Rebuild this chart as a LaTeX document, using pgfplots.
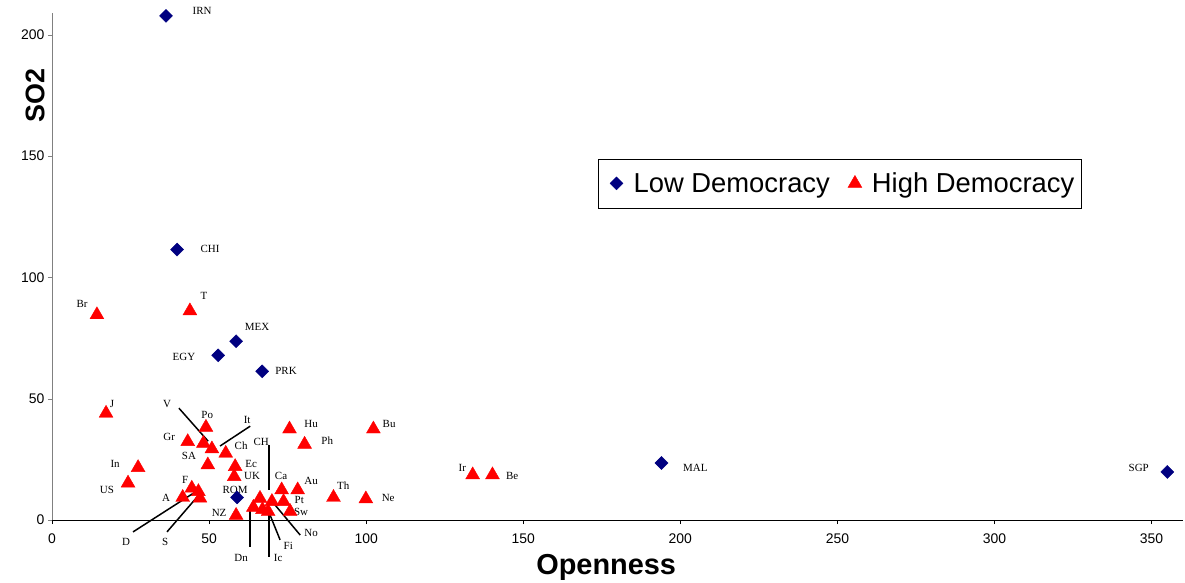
\documentclass[border=0pt]{standalone}
\usepackage{pgfplots}
\pgfplotsset{compat=1.18}
\usepackage{fontspec}
\setmainfont{Liberation Sans}
\newfontfamily\lblfont{Liberation Serif}
\definecolor{lowdem}{RGB}{0,0,128}
\definecolor{highdem}{RGB}{255,0,0}
\newcommand{\lab}[3]{\node[font=\lblfont\fontsize{11}{11}\selectfont,inner sep=0pt] at (axis cs:#1,#2) {#3};}
\pgfplotsset{legimg/.style={legend image code/.code={%
    \path[draw=none, fill=none] (0bp,0bp) -- (28bp,0bp);
    \draw[##1, only marks] plot coordinates {(13bp,0bp)};}}}

\begin{document}
\begin{tikzpicture}
\begin{axis}[
    scale only axis,
    width=1131bp, height=507bp,
    xmin=0, xmax=360,
    ymin=0, ymax=209,
    axis x line*=bottom,
    axis y line*=left,
    x axis line style={black},
    y axis line style={gray},
    xtick={0,50,...,350},
    ytick={0,50,...,200},
    tick align=outside,
    major tick length=4bp,
    tick style={black, thin},
    ytick style={gray},
    /pgf/number format/assume math mode=true,
    ticklabel style={font=\fontsize{14}{15}\selectfont},
    xticklabel style={yshift=-6bp},
    yticklabel style={xshift=0bp},
    clip=false,
    legend style={at={(axis cs:173.9,149)}, anchor=north west,
        legend columns=2, draw=black, thin,
        font=\fontsize{27.5}{29}\selectfont,
        inner xsep=5bp, inner ysep=12bp,
        /tikz/every even column/.append style={column sep=10bp}},
    legend cell align=left,
]
\addplot[only marks, mark=square*, mark size=4.6bp, color=lowdem,
    mark options={rotate=45}, legimg] coordinates {
    (36.3,207.8) (39.8,111.5) (58.6,73.7) (52.9,67.9) (66.9,61.3)
    (58.9,9.3) (194.0,23.5) (355.0,19.8)
};
\addlegendentry{Low Democracy}
\addplot[only marks, mark=triangle*, mark size=8bp, color=highdem, legimg] coordinates {
    (14.3,84.6) (43.9,86.2) (17.2,44.0) (27.4,21.6) (24.2,15.2)
    (43.2,32.3) (49.0,38.2) (48.2,31.6) (50.9,29.3) (49.6,22.7)
    (55.3,27.5) (58.3,22.0) (58.0,17.9) (44.5,13.1) (41.6,9.3)
    (46.6,11.7) (47.1,9.0) (58.6,1.9) (75.6,37.5) (80.4,31.2)
    (102.3,37.5) (73.1,12.4) (78.2,12.4) (73.7,7.6) (75.8,3.5)
    (66.2,8.9) (70.0,7.6) (67.0,4.3) (68.8,3.5) (64.1,5.2)
    (89.6,9.3) (99.9,8.7) (133.9,18.6) (140.2,18.6)
};
\addlegendentry{High Democracy}

% point labels
\lab{47.8}{209.9}{IRN}
\lab{50.3}{111.9}{CHI}
\lab{65.3}{79.8}{MEX}
\lab{42.0}{67.1}{EGY}
\lab{74.5}{61.3}{PRK}
\lab{58.3}{12.3}{ROM}
\lab{204.8}{21.4}{MAL}
\lab{345.9}{21.4}{SGP}
\lab{9.6}{88.9}{Br}
\lab{48.4}{92.2}{T}
\lab{19.1}{47.7}{J}
\lab{36.6}{47.7}{V}
\lab{49.4}{43.2}{Po}
\lab{62.1}{41.2}{It}
\lab{37.3}{34.2}{Gr}
\lab{60.2}{30.5}{Ch}
\lab{66.6}{32.1}{CH}
\lab{82.5}{39.5}{Hu}
\lab{87.6}{32.5}{Ph}
\lab{107.3}{39.5}{Bu}
\lab{43.6}{26.3}{SA}
\lab{20.1}{23.0}{In}
\lab{63.4}{23.0}{Ec}
\lab{63.7}{18.1}{UK}
\lab{72.9}{18.1}{Ca}
\lab{82.5}{16.0}{Au}
\lab{92.7}{14.0}{Th}
\lab{107.0}{9.1}{Ne}
\lab{78.7}{8.2}{Pt}
\lab{79.3}{3.3}{Sw}
\lab{17.5}{12.3}{US}
\lab{42.4}{16.5}{F}
\lab{36.3}{9.1}{A}
\lab{53.2}{2.9}{NZ}
\lab{130.6}{21.4}{Ir}
\lab{146.5}{18.1}{Be}
\lab{23.6}{-9.1}{D}
\lab{36.0}{-9.1}{S}
\lab{60.2}{-15.6}{Dn}
\lab{72.0}{-15.6}{Ic}
\lab{75.2}{-10.7}{Fi}
\lab{82.5}{-5.3}{No}

% leader lines
\draw[black, line width=1.5bp] (axis cs:40.4,46.1) -- (axis cs:49.7,32.5);
\draw[black, line width=1.5bp] (axis cs:63.1,38.7) -- (axis cs:53.5,30.5);
\draw[black, line width=1.5bp] (axis cs:69.1,30.9) -- (axis cs:69.1,12.3);
\draw[black, line width=1.5bp] (axis cs:25.8,-4.9) -- (axis cs:46.5,12.3);
\draw[black, line width=1.5bp] (axis cs:36.6,-4.9) -- (axis cs:46.2,9.5);
\draw[black, line width=1.5bp] (axis cs:63.1,4.1) -- (axis cs:63.1,-11.1);
\draw[black, line width=1.5bp] (axis cs:69.1,4.1) -- (axis cs:69.1,-15.2);
\draw[black, line width=1.5bp] (axis cs:69.4,2.1) -- (axis cs:72.6,-8.2);
\draw[black, line width=1.5bp] (axis cs:71.0,6.2) -- (axis cs:79.0,-6.2);

% axis titles
\node[font=\bfseries\fontsize{29}{29}\selectfont] at (axis cs:176.4,-19.5) {Openness};
\node[font=\bfseries\fontsize{27}{27}\selectfont, rotate=90] at (axis cs:-5.4,174.9) {SO2};

\coordinate (bl) at (rel axis cs:0,0);
\coordinate (tr) at (rel axis cs:1,1);
\end{axis}
\pgfresetboundingbox
\path ([shift={(-52bp,-62bp)}]bl) rectangle ([shift={(2bp,13bp)}]tr);
\end{tikzpicture}
\end{document}
